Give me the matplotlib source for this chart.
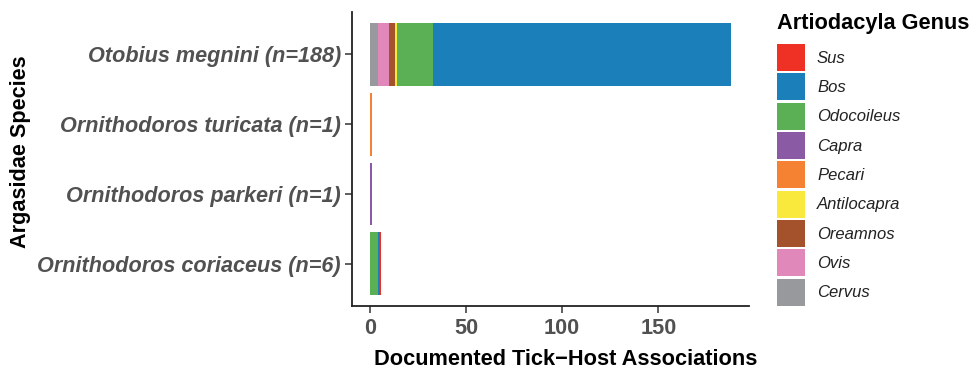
import numpy as np
import matplotlib
matplotlib.use("Agg")
import matplotlib.pyplot as plt
from matplotlib.patches import Patch

plt.rcParams['font.family'] = ['Liberation Sans', 'DejaVu Sans']

# species, bottom to top
species = ['Ornithodoros coriaceus (n=6)', 'Ornithodoros parkeri (n=1)',
           'Ornithodoros turicata (n=1)', 'Otobius megnini (n=188)']

# legend order
genera = ['Sus', 'Bos', 'Odocoileus', 'Capra', 'Pecari',
          'Antilocapra', 'Oreamnos', 'Ovis', 'Cervus']
colors = ['#EE3124', '#1B80BA', '#5BAF55', '#8A5BA4', '#F58233',
          '#F9E93D', '#A4522B', '#E088BA', '#98999D']

# counts per genus, same order as species
Sus = [1, 0, 0, 0]
Bos = [1, 0, 0, 155]
Odocoileus = [4, 0, 0, 19]
Capra = [0, 1, 0, 0]
Pecari = [0, 0, 1, 0]
Antilocapra = [0, 0, 0, 1]
Oreamnos = [0, 0, 0, 3]
Ovis = [0, 0, 0, 6]
Cervus = [0, 0, 0, 4]
counts = [Sus, Bos, Odocoileus, Capra, Pecari, Antilocapra, Oreamnos, Ovis, Cervus]

W, H = 972, 369
fig = plt.figure(figsize=(W / 100, H / 100), dpi=100)
ax = fig.add_axes([0.362, 0.171, 0.409, 0.796])

y = np.arange(len(species))
left = np.zeros(len(species))
# stack from last legend entry (Cervus) at zero to first (Sus) at the end
for g, c, vals in reversed(list(zip(genera, colors, counts))):
    vals = np.array(vals, dtype=float)
    ax.barh(y, vals, left=left, height=0.9, color=c, linewidth=0)
    left += vals

ax.set_xlim(-9.4, 197.4)
ax.set_ylim(-0.6, 3.6)
ax.set_xticks([0, 50, 100, 150])
ax.set_yticks(y)
ax.set_yticklabels(species, fontsize=15.6, fontweight='bold', style='italic', color='#515151')
for lab in ax.get_xticklabels():
    lab.set_fontsize(15.6)
    lab.set_fontweight('bold')
    lab.set_color('#515151')
ax.tick_params(axis='both', length=5, width=1.1, color='#333333')
ax.tick_params(axis='y', pad=3)
ax.tick_params(axis='x', pad=4)

for s in ['top', 'right']:
    ax.spines[s].set_visible(False)
for s in ['left', 'bottom']:
    ax.spines[s].set_linewidth(1.3)
    ax.spines[s].set_color('#222222')

# axis titles
fig.text(566 / W, (H - 365) / H, 'Documented Tick\u2212Host Associations',
         fontsize=15.7, fontweight='bold', ha='center', va='baseline')
fig.text(21 / W, (H - 152) / H, 'Argasidae Species', fontsize=15.6,
         fontweight='bold', rotation=90, ha='center', va='center')

# legend
fig.text(777 / W, (H - 23) / H, 'Artiodacyla Genus', fontsize=15.7,
         fontweight='bold', ha='left', va='center')
handles = [Patch(facecolor=c, edgecolor='none', label=g) for g, c in zip(genera, colors)]
leg = fig.legend(handles=handles, loc='upper left', bbox_to_anchor=(777 / W, (H - 44) / H),
                 frameon=False, fontsize=12,
                 handlelength=1.65, handleheight=2.1, labelspacing=0.15,
                 handletextpad=0.75, borderaxespad=0, borderpad=0)
for t in leg.get_texts():
    t.set_style('italic')
    t.set_color('#222222')

fig.savefig('out.png', dpi=100)
